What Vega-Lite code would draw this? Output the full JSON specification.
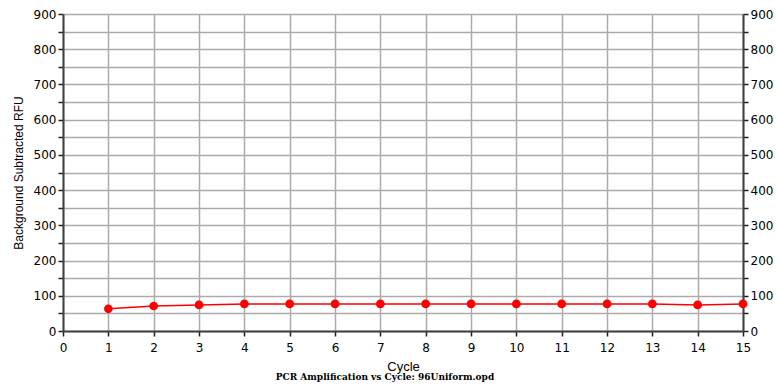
{
  "$schema": "https://vega.github.io/schema/vega-lite/v6.json",
  "width": 680,
  "height": 317,
  "autosize": {"type": "none"},
  "padding": {"left": 63, "top": 14, "right": 34, "bottom": 58},
  "background": "white",
  "title": {
    "text": "PCR Amplification vs Cycle: 96Uniform.opd",
    "orient": "bottom",
    "anchor": "middle",
    "offset": 0,
    "dx": -18,
    "font": "DejaVu Serif",
    "fontSize": 9,
    "fontWeight": "bold",
    "color": "#000000"
  },
  "config": {
    "view": {"stroke": null},
    "axis": {
      "labelFont": "DejaVu Sans",
      "labelFontSize": 12,
      "labelColor": "#000000",
      "titleFont": "Liberation Sans",
      "titleFontWeight": "normal",
      "titleColor": "#000000",
      "domainColor": "#404040",
      "domainWidth": 2,
      "tickColor": "#202020",
      "tickWidth": 1.5,
      "tickSize": 5,
      "gridColor": "#ababab",
      "gridWidth": 1.5,
      "gridOpacity": 1
    }
  },
  "data": {
    "values": [
      {"cycle": 1, "rfu": 63},
      {"cycle": 2, "rfu": 71},
      {"cycle": 3, "rfu": 74},
      {"cycle": 4, "rfu": 77},
      {"cycle": 5, "rfu": 77},
      {"cycle": 6, "rfu": 77},
      {"cycle": 7, "rfu": 77},
      {"cycle": 8, "rfu": 77},
      {"cycle": 9, "rfu": 77},
      {"cycle": 10, "rfu": 77},
      {"cycle": 11, "rfu": 77},
      {"cycle": 12, "rfu": 77},
      {"cycle": 13, "rfu": 77},
      {"cycle": 14, "rfu": 74},
      {"cycle": 15, "rfu": 77}
    ]
  },
  "encoding": {
    "x": {
      "field": "cycle",
      "type": "quantitative",
      "scale": {"domain": [0, 15], "nice": false, "zero": false},
      "axis": {
        "values": [0, 1, 2, 3, 4, 5, 6, 7, 8, 9, 10, 11, 12, 13, 14, 15],
        "title": "Cycle",
        "titleFontSize": 13,
        "titlePadding": 7,
        "labelPadding": 6,
        "labelFlush": false
      }
    }
  },
  "layer": [
    {
      "mark": {"type": "line", "color": "#ff0000", "strokeWidth": 1.5},
      "encoding": {
        "y": {
          "field": "rfu",
          "type": "quantitative",
          "scale": {"domain": [0, 900], "nice": false},
          "axis": {
            "orient": "left",
            "values": [0, 50, 100, 150, 200, 250, 300, 350, 400, 450, 500, 550, 600, 650, 700, 750, 800, 850, 900],
            "labelExpr": "datum.value % 100 == 0 ? datum.label : ''",
            "labelPadding": 2,
            "title": "Background Subtracted RFU",
            "titleFontSize": 12,
            "titlePadding": 8
          }
        }
      }
    },
    {
      "mark": {"type": "circle", "color": "#ff0000", "opacity": 1, "size": 75},
      "encoding": {
        "y": {
          "field": "rfu",
          "type": "quantitative",
          "scale": {"domain": [0, 900], "nice": false},
          "axis": {
            "orient": "right",
            "values": [0, 50, 100, 150, 200, 250, 300, 350, 400, 450, 500, 550, 600, 650, 700, 750, 800, 850, 900],
            "labelExpr": "datum.value % 100 == 0 ? datum.label : ''",
            "labelPadding": 2,
            "grid": false,
            "title": null
          }
        }
      }
    }
  ],
  "resolve": {"axis": {"y": "independent"}}
}
